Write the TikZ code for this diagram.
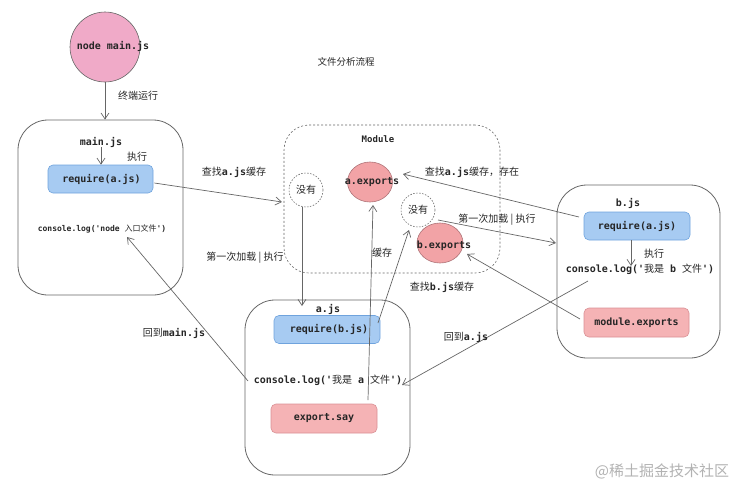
\documentclass[tikz,border=0pt]{standalone}
\usepackage{fontspec}
\setmainfont{DejaVu Sans}
\setmonofont{DejaVu Sans Mono}
\newfontfamily\cjk{Noto Sans CJK SC}
\usetikzlibrary{arrows.meta,calc,shapes.geometric}
\newcommand\zh[1]{{\cjk\mdseries #1}}
\definecolor{linec}{HTML}{666666}
\definecolor{bluef}{HTML}{A7CBF2}
\definecolor{blued}{HTML}{6FA3DD}
\definecolor{pinkf}{HTML}{F5B3B5}
\definecolor{pinkd}{HTML}{D99095}
\definecolor{circf}{HTML}{F2A3A6}
\definecolor{startf}{HTML}{F0AAC8}
\tikzset{
  every node/.style={font=\ttfamily\bfseries\fontsize{10}{12}\selectfont, text=black!85},
  container/.style={draw=linec, line width=0.8pt, rounded corners=30pt, inner sep=0pt},
  modbox/.style={draw=linec, dashed, dash pattern=on 2pt off 2pt, line width=0.6pt, rounded corners=25pt, inner sep=0pt},
  bluebox/.style={draw=blued, fill=bluef, line width=0.6pt, rounded corners=5pt, minimum width=106pt, minimum height=28pt, inner sep=0pt},
  pinkbox/.style={draw=pinkd, fill=pinkf, line width=0.6pt, rounded corners=5pt, minimum width=106pt, minimum height=29pt, inner sep=0pt},
  nobox/.style={circle, draw=linec, dash pattern=on 1.5pt off 1.5pt, line width=0.6pt, minimum size=34pt, inner sep=0pt, font=\cjk\fontsize{10}{12}\selectfont},
  expc/.style={ellipse, draw=pinkd!80!black, fill=circf, line width=0.6pt, minimum width=46pt, minimum height=40pt, inner sep=0pt},
  arr/.style={draw=linec, line width=0.7pt, -{Straight Barb[length=6pt,width=8pt]}},
  lbl/.style={inner sep=0pt},
}
\begin{document}
\begin{tikzpicture}[x=1pt,y=-1pt]
\useasboundingbox (0,0) rectangle (750,496);
% containers
\node[container, minimum width=165pt, minimum height=175pt] (mainbox) at (100.5,207.5) {};
\node[modbox, minimum width=216pt, minimum height=148pt] (module) at (392,199) {};
\node[container, minimum width=165pt, minimum height=175pt] (abox) at (327.5,387.5) {};
\node[container, minimum width=163pt, minimum height=173pt] (bbox) at (638.5,271.5) {};
% start
\node[circle, draw=linec, fill=startf, line width=0.6pt, minimum size=70pt, inner sep=0pt] (start) at (105,47) {};
\node[lbl] (startlbl) at (113,46) {node main.js};
\node[lbl, font=\cjk\fontsize{9.5}{11}\selectfont] (title) at (346,62) {文件分析流程};
% main.js
\node[lbl] (mainlbl) at (101,142) {main.js};
\node[bluebox, minimum width=105pt] (mainreq) at (100.5,179) {\hspace*{2pt}require(a.js)};
\node[lbl, font=\ttfamily\bfseries\fontsize{8}{10}\selectfont] (mainlog) at (102,229) {console.log('node \zh{入口文件}')};
% module
\node[lbl, font=\ttfamily\bfseries\fontsize{9}{11}\selectfont] (modlbl) at (378,139) {Module};
\node[nobox] (none1) at (306,190) {没有};
\node[expc, minimum width=45pt, minimum height=40pt] (aexp) at (370,182) {};
\node[lbl] (aexplbl) at (372,182) {a.exports};
\node[nobox] (none2) at (418,210) {没有};
\node[expc, minimum width=46pt, minimum height=40pt] (bexp) at (440,243) {};
\node[lbl] (bexplbl) at (444,246) {b.exports};
% a.js
\node[lbl] (albl) at (328,309) {a.js};
\node[bluebox] (areq) at (327,329.5) {\hspace*{4pt}require(b.js)};
\node[lbl] (alog) at (328,380) {console.log('\zh{我是} a \zh{文件}')};
\node[pinkbox] (asay) at (324,418.5) {export.say};
% b.js
\node[lbl] (blbl) at (628,203) {b.js};
\node[bluebox] (breq) at (637,226) {require(a.js)};
\node[lbl] (blog) at (640,269) {console.log('\zh{我是} b \zh{文件}')};
\node[pinkbox, minimum width=105pt] (bmod) at (636.5,322.5) {module.exports};
% connector end points
\coordinate (c1) at (282,202);
\coordinate (c2) at (302,306);
\coordinate (c3s) at (368,400);
\coordinate (c3e) at (373,205);
\coordinate (c4s) at (378,323);
\coordinate (c4e) at (409,230);
\coordinate (c5s) at (438,220);
\coordinate (c5e) at (556,243);
\coordinate (c6s) at (579,217);
\coordinate (c6e) at (403,174);
\coordinate (c7s) at (588,281);
\coordinate (c7e) at (402,385);
\coordinate (c8s) at (248,381);
\coordinate (c8e) at (127,237);
\coordinate (c9s) at (580,319);
\coordinate (c9e) at (467,254);
% connectors
\draw[arr] (start.south) -- (start.south |- mainbox.north);
\node[lbl, font=\cjk\fontsize{10}{12}\selectfont] at (138,96) {终端运行};
\draw[arr] (mainlbl.south) -- (mainlbl.south |- mainreq.north);
\node[lbl, font=\cjk\fontsize{10}{12}\selectfont] at (137,157) {执行};
\draw[arr] ($(mainreq.east)+(1,4)$) -- (c1);
\node[lbl] at (234,172) {\zh{查找}a.js\zh{缓存}};
\draw[arr] (none1.south -| c2) -- (c2);
\node[lbl, font=\cjk\fontsize{10}{12}\selectfont] at (245,258) {第一次加载 | 执行};
\draw[arr] (c3s) -- (c3e);
\node[lbl, font=\cjk\fontsize{10}{12}\selectfont] at (382,253) {缓存};
\draw[arr] (c4s) -- (c4e);
\node[lbl] at (442,287) {\zh{查找}b.js\zh{缓存}};
\draw[arr] (c5s) -- (c5e);
\node[lbl, font=\cjk\fontsize{10}{12}\selectfont] at (497,220) {第一次加载 | 执行};
\draw[arr] (c6s) -- (c6e);
\node[lbl] at (472,172) {\zh{查找}a.js\zh{缓存，存在}};
\draw[arr] (breq.south -| 631,0) -- (631,266);
\node[lbl, font=\cjk\fontsize{10}{12}\selectfont] at (654,254) {执行};
\draw[arr] (c9s) -- (c9e);
\draw[arr] (c7s) -- (c7e);
\node[lbl] at (466,337) {\zh{回到}a.js};
\draw[arr] (c8s) -- (c8e);
\node[lbl] at (174,333) {\zh{回到}main.js};
% watermark
\node[lbl, font=\cjk\fontsize{15}{18}\selectfont, text=black!30] (wm) at (662,471) {@稀土掘金技术社区};
\end{tikzpicture}
\end{document}
